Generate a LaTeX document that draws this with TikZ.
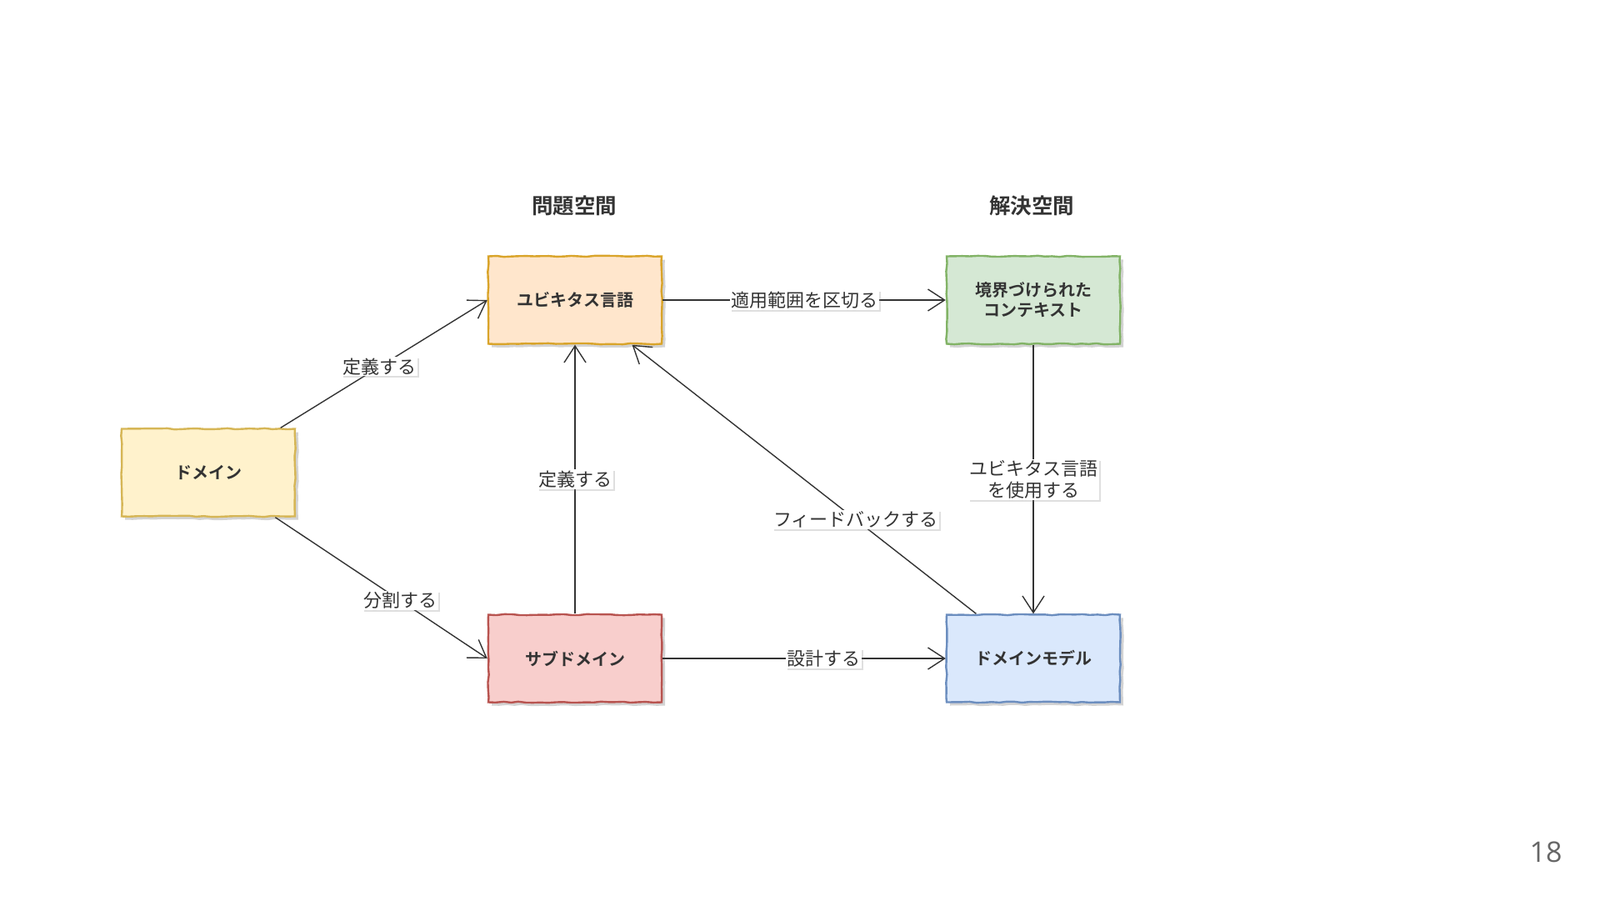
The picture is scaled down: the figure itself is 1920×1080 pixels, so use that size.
\documentclass[tikz,border=0pt]{standalone}
\usepackage{fontspec}
\setmainfont{Noto Sans CJK JP}[BoldFont={Noto Sans CJK JP Bold}]
\newfontfamily\pagenofont{Open Sans}
\usepackage{xcolor}
\usetikzlibrary{arrows.meta,shadows,decorations.pathmorphing}

% box colours (fill / border)
\definecolor{domfill}{HTML}{FFF2CC}\definecolor{domline}{HTML}{D6B656}
\definecolor{ubifill}{HTML}{FFE6CC}\definecolor{ubiline}{HTML}{D9A42A}
\definecolor{bcfill}{HTML}{D5E8D4}\definecolor{bcline}{HTML}{82B366}
\definecolor{subfill}{HTML}{F8CECC}\definecolor{subline}{HTML}{B85450}
\definecolor{modfill}{HTML}{DAE8FC}\definecolor{modline}{HTML}{6C8EBF}
\definecolor{ink}{HTML}{333333}

\begin{document}
\begin{tikzpicture}[x=1pt,y=-1pt,
  box/.style={draw, line width=2.4pt, minimum width=208pt, minimum height=105pt,
    align=center, text=ink, font=\fontsize{20}{24}\selectfont\bfseries,
    decorate, decoration={random steps, segment length=9pt, amplitude=0.7pt},
    drop shadow={shadow xshift=4pt, shadow yshift=-4pt, opacity=0.35}},
  lbl/.style={fill=white, inner sep=1.5pt, align=center, text=ink,
    font=\fontsize{22}{26}\selectfont,
    drop shadow={shadow xshift=2pt, shadow yshift=-2pt, opacity=0.25}},
  spacetitle/.style={font=\fontsize{25.5}{30}\selectfont\bfseries, text=ink},
  link/.style={draw=ink, line width=1.4pt, -{Straight Barb[length=20pt, width=26pt]}}]

\useasboundingbox (0,0) rectangle (1920,1080);

% Column titles
\node[spacetitle] (probtitle) at (689,247) {問題空間};
\node[spacetitle] (soltitle) at (1238,247) {解決空間};

% Boxes: name/x/y/colour/text
\foreach \name/\x/\y/\col/\txt in {dom/250/567/dom/{ドメイン},
    ubi/690/360/ubi/{ユビキタス言語}, bc/1240/360/bc/{境界づけられた\\コンテキスト},
    sub/690/790/sub/{サブドメイン}, model/1240/790/mod/{ドメインモデル}} {
  \node[box, draw=\col line, fill=\col fill] (\name) at (\x,\y) {\txt};
}

% Connectors
\draw[link] (dom) -- node[lbl, pos=0.48] {定義する} (ubi.west);
\draw[link] (dom) -- node[lbl, pos=0.59] {分割する} (sub.west);
\draw[link] (sub) -- node[lbl] {定義する} (ubi);
\draw[link] (ubi) -- node[lbl] {適用範囲を区切る} (bc);
\draw[link] (bc) -- node[lbl] {ユビキタス言語\\を使用する} (model);
\draw[link] (model) -- node[lbl, pos=0.35] {フィードバックする} (ubi);
\draw[link] (sub) -- node[lbl, pos=0.57] {設計する} (model);

% Page number
\node[font=\pagenofont\fontsize{34}{38}\selectfont, text=black!60] (pageno) at (1855,1022) {18};
\end{tikzpicture}
\end{document}
